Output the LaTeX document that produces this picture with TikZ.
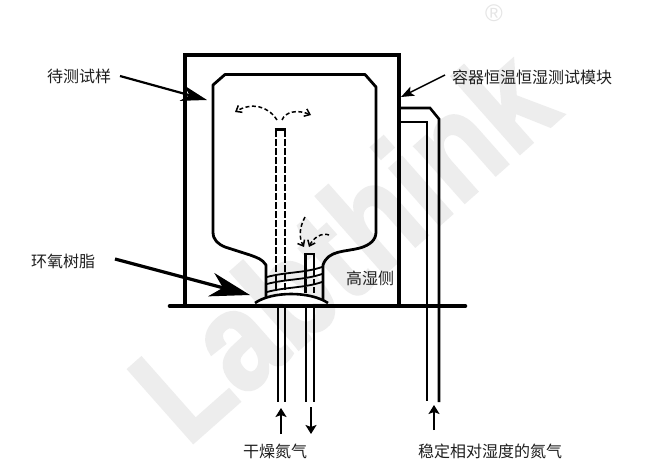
\documentclass[tikz,border=0pt]{standalone}
\usepackage{fontspec}
\setmainfont{Liberation Sans}
\newfontfamily\cjk{Noto Sans CJK SC}
\newfontfamily\wmfont[UprightFont=* Bold,FakeBold=2]{Liberation Sans}
\usetikzlibrary{arrows.meta}
\tikzset{
  lbl/.style={font=\cjk\fontsize{16}{18}\selectfont,text=black!88,inner sep=0pt},
  wall/.style={line width=3.6pt,line join=miter},
  bottlewall/.style={line width=2.8pt,line join=round},
  pipe/.style={line width=2.6pt},
  dashpipe/.style={line width=2.8pt,dash pattern=on 7pt off 2pt},
  flow/.style={line width=1.5pt,dash pattern=on 4pt off 2.5pt,-{Straight Barb[length=5pt,width=8pt]}},
  band/.style={line width=1.8pt},
  small arrow/.style={line width=1.8pt,-{Stealth[length=9pt,width=11pt,inset=2pt]}},
  wmark/.style={font=\wmfont\fontsize{142}{145}\selectfont,text=black!7,inner sep=0pt,rotate=41.5,anchor=base west}
}
\begin{document}
\begin{tikzpicture}[x=1pt,y=-1pt]
\useasboundingbox (0,0) rectangle (650,476);
\fill[white] (0,0) rectangle (650,476);
% watermark
\node[wmark] (wm) at (187,448) {\scalebox{.85}[1]{Labthink}};
\node[font=\fontsize{24}{24}\selectfont,text=black!10,inner sep=0pt] (reg) at (494,13) {®};
% container
\draw[wall] (185,306) -- (185,55) -- (399,55) -- (399,306);
\draw[line width=4.6pt,line cap=round] (170,306) -- (465,306);
% humidity pipes
\draw[pipe] (400,108) -- (430,108) -- (439,119) -- (439,402);
\draw[pipe] (400,122) -- (427,122) -- (427,401);
% bottle
\draw[bottlewall] (266,300) -- (266,265) .. controls (262,259) and (258,258) .. (250,255)
  -- (225,247) .. controls (218,244) and (213,240) .. (213,232)
  -- (213,85) -- (225,74.5) -- (365,74.5) -- (376,87) -- (376,232)
  .. controls (376,240) and (370,245) .. (360,248)
  .. controls (345,252) and (328,250) .. (323,265) -- (323,300);
% dome
\draw[line width=2.6pt,fill=white] (255,303) .. controls (272,291) and (310,291) .. (328,303);
% tubes
\draw[dashpipe] (276,290) -- (276,130);
\draw[dashpipe] (285,290) -- (285,130);
\draw[line width=2.6pt] (274.7,129.5) -- (286.3,129.5);
\draw[pipe] (305.5,271) -- (305.5,254) -- (314,254) -- (314,271);
\draw[line width=2.2pt,dash pattern=on 6pt off 2pt] (305.5,271) -- (305.5,295);
\draw[line width=2.2pt,dash pattern=on 6pt off 2pt] (314,271) -- (314,295);
% epoxy bands
\draw[band] (267,277) .. controls (285,272) and (305,273) .. (322,267);
\draw[band] (267,284) .. controls (285,279) and (305,280) .. (322,274);
\draw[band] (267,292) .. controls (285,287) and (305,288) .. (322,282);
% lower tubes
\draw[pipe] (278,308) -- (278,402);
\draw[pipe] (285,308) -- (285,402);
\draw[pipe] (306,308) -- (306,402);
\draw[pipe] (314,308) -- (314,402);
% flows
\draw[flow] (277,120) .. controls (268,106) and (252,102) .. (235,112);
\draw[flow] (282,120) .. controls (285,112) and (297,109) .. (311,115);
\draw[flow] (305,217) .. controls (299,228) and (299,238) .. (304,247);
\draw[flow] (329,235) .. controls (322,232) and (313,238) .. (309,247);
% labels
\node[lbl,anchor=west] (sample) at (47,76) {待测试样};
\node[lbl,anchor=west] (module) at (452,77) {容器恒温恒湿测试模块};
\node[lbl,anchor=west] (epoxy) at (31,261) {环氧树脂};
\node[lbl,anchor=west] (wet) at (346,278) {高湿侧};
\node[lbl,anchor=west] (dry) at (243,451) {干燥氮气};
\node[lbl,anchor=west] (stable) at (418,451) {稳定相对湿度的氮气};
% leads
\coordinate (sampleS) at (120,76);
\coordinate (sampleT) at (207,100);
\coordinate (moduleS) at (445,75);
\coordinate (moduleT) at (401,97);
\coordinate (epoxyS) at (115,259);
\coordinate (epoxyT) at (250,295);
\draw[line width=2.2pt,-{Stealth[length=26pt,width=16pt,inset=8pt]}] (sampleS) -- (sampleT);
\draw[line width=1.4pt,-{Stealth[length=13pt,width=10pt,inset=3pt]}] (moduleS) -- (moduleT);
\draw[line width=3.2pt,-{Stealth[length=40pt,width=24pt,inset=12pt]}] (epoxyS) -- (epoxyT);
% gas arrows
\coordinate (a1s) at (281,434); \coordinate (a1e) at (281,408);
\coordinate (a2s) at (311,407); \coordinate (a2e) at (311,434);
\coordinate (a3s) at (434,430); \coordinate (a3e) at (434,405);
\draw[small arrow] (a1s) -- (a1e);
\draw[small arrow] (a2s) -- (a2e);
\draw[small arrow] (a3s) -- (a3e);
\end{tikzpicture}
\end{document}
